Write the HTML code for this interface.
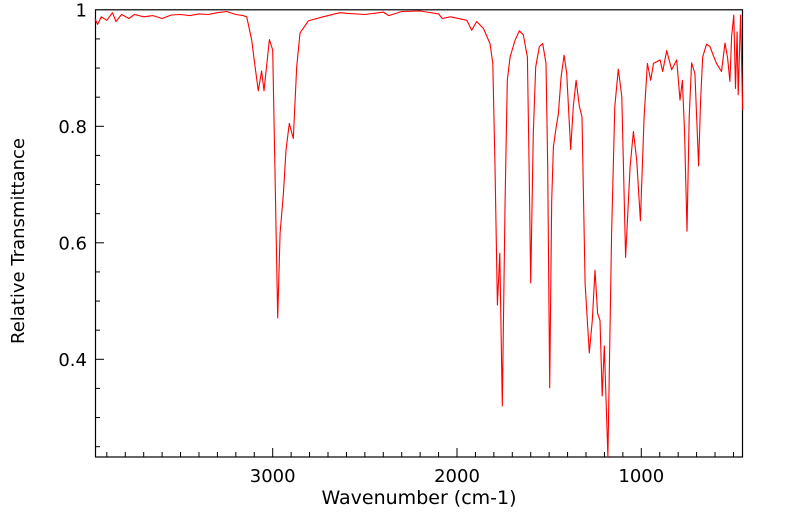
<!DOCTYPE html>
<html><head><meta charset="utf-8"><style>
body{margin:0;background:#fff;}
svg{display:block;font-family:"DejaVu Sans","Liberation Sans",sans-serif;}
</style></head><body>
<svg id="chart" width="799" height="516" viewBox="0 0 799 516" xmlns="http://www.w3.org/2000/svg">
<rect x="95.5" y="9.8" width="647" height="447.2" fill="none" stroke="#000" stroke-width="1.2"/>
<g id="ticks"></g>
<polyline id="spectrum" fill="none" stroke="#ff0000" stroke-width="1.1" stroke-linejoin="round"/>
<text x="419" y="504" font-size="19" text-anchor="middle">Wavenumber (cm-1)</text>
<text transform="translate(24,241) rotate(-90)" font-size="18" text-anchor="middle">Relative Transmittance</text>
</svg>
<script>
const wavenumbers=[3965,3950,3930,3900,3870,3850,3820,3780,3750,3700,3650,3600,3550,3500,3450,3400,3350,3300,3250,3200,3160,3141,3114,3101,3078,3060,3047,3018,3000,2988,2973,2960,2942,2928,2910,2888,2870,2852,2807,2727,2635,2600,2500,2400,2370,2300,2200,2100,2080,2036,1947,1920,1893,1857,1821,1806,1794,1781,1768,1754,1739,1727,1712,1685,1662,1640,1618,1609,1600,1586,1573,1553,1535,1517,1508,1497,1486,1477,1462,1450,1435,1419,1405,1383,1369,1354,1336,1322,1305,1282,1266,1251,1237,1224,1212,1201,1181,1161,1144,1125,1106,1085,1061,1043,1025,1005,985,967,949,934,898,884,862,835,808,790,777,765,752,740,727,709,689,678,667,646,628,610,592,565,546,532,519,510,498,489,480,474,461,456,450];
const transmittance=[0.985,0.975,0.988,0.982,0.995,0.980,0.992,0.985,0.992,0.988,0.990,0.985,0.991,0.992,0.990,0.993,0.992,0.995,0.997,0.992,0.990,0.988,0.948,0.915,0.861,0.895,0.861,0.949,0.931,0.73,0.471,0.617,0.685,0.759,0.805,0.779,0.902,0.960,0.981,0.988,0.995,0.994,0.992,0.996,0.990,0.997,0.998,0.993,0.985,0.988,0.982,0.965,0.980,0.968,0.942,0.908,0.731,0.493,0.582,0.320,0.673,0.879,0.919,0.948,0.964,0.957,0.919,0.731,0.531,0.788,0.902,0.937,0.942,0.908,0.731,0.351,0.673,0.765,0.799,0.822,0.885,0.922,0.891,0.760,0.834,0.879,0.834,0.816,0.530,0.411,0.467,0.553,0.479,0.467,0.337,0.423,0.233,0.616,0.834,0.898,0.851,0.575,0.731,0.791,0.742,0.638,0.816,0.908,0.879,0.908,0.914,0.894,0.930,0.897,0.914,0.845,0.879,0.788,0.620,0.816,0.909,0.891,0.732,0.845,0.919,0.941,0.937,0.922,0.908,0.894,0.943,0.917,0.877,0.954,0.991,0.865,0.962,0.854,0.991,0.908,0.828];
const xTickLabels=[3000,2000,1000];
const yTickLabels=[0.4,0.6,0.8,1];
const NS="http://www.w3.org/2000/svg";
function xs(w){return 272.7-(w-3000)*0.1843;}
function ys(t){return 9.8+(1-t)*582.5;}
const pts=wavenumbers.map((w,i)=>xs(w).toFixed(1)+","+ys(transmittance[i]).toFixed(1)).join(" ");
document.getElementById('spectrum').setAttribute('points',pts);
const g=document.getElementById('ticks');
function line(x1,y1,x2,y2){const l=document.createElementNS(NS,'line');l.setAttribute('x1',x1);l.setAttribute('y1',y1);l.setAttribute('x2',x2);l.setAttribute('y2',y2);l.setAttribute('stroke','#000');l.setAttribute('stroke-width','1');


g.appendChild(l);}
for(let w=3900;w>=500;w-=100){const x=xs(w);const major=(w%1000===0);line(x,457,x,major?448:452);}
for(let t=0.25;t<=0.951;t+=0.05){const y=ys(t);const major=Math.abs(t*10-Math.round(t*10))<0.01&&Math.round(t*10)%2===0;line(95.5,y,major?104:100,y);}
xTickLabels.forEach(v=>{const t=document.createElementNS(NS,'text');t.setAttribute('x',xs(v));t.setAttribute('y',482);t.setAttribute('font-size','18');t.setAttribute('text-anchor','middle');t.textContent=v;


document.getElementById('chart').appendChild(t);});
yTickLabels.forEach(v=>{const t=document.createElementNS(NS,'text');t.setAttribute('x',87);t.setAttribute('y',ys(v)+6.5);t.setAttribute('font-size','18');t.setAttribute('text-anchor','end');t.textContent=String(v);


document.getElementById('chart').appendChild(t);});
</script>
</body></html>
